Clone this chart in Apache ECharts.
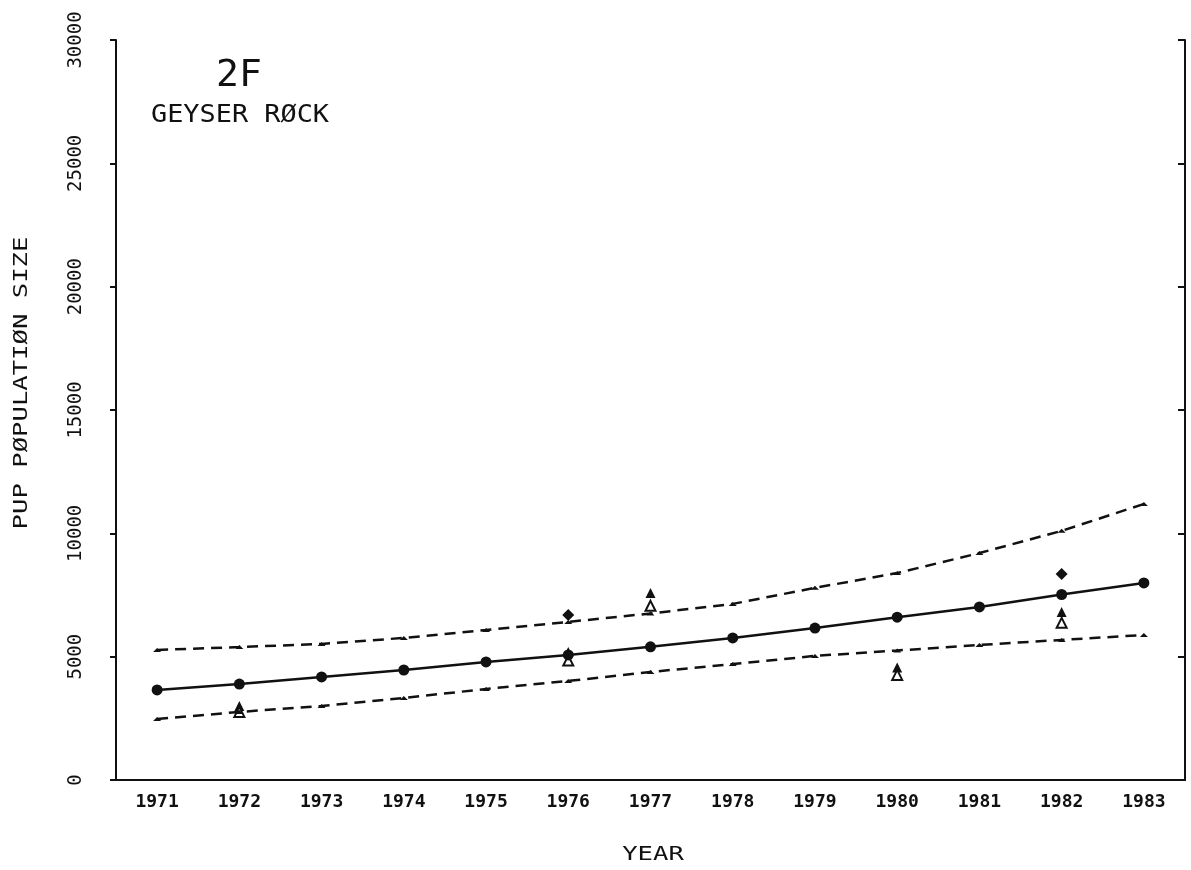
<!DOCTYPE html>
<html>
<head>
<meta charset="utf-8">
<script src="https://cdn.jsdelivr.net/npm/echarts@6/dist/echarts.min.js"></script>
<style>html,body{margin:0;padding:0;background:#fff}#c{width:1191px;height:870px}</style>
</head>
<body>
<div id="c"></div>
<script>
const years = ['1971','1972','1973','1974','1975','1976','1977','1978','1979','1980','1981','1982','1983'];
const yTicks = [0, 5000, 10000, 15000, 20000, 25000, 30000];
const fitted = [3650, 3890, 4180, 4460, 4785, 5070, 5400, 5760, 6160, 6600, 7015, 7520, 7990];
const upperCI = [5270, 5390, 5515, 5760, 6080, 6410, 6750, 7140, 7790, 8390, 9200, 10100, 11190];
const lowerCI = [2470, 2760, 3000, 3325, 3690, 4015, 4380, 4700, 5030, 5250, 5475, 5680, 5880];
const obsDiamond = [null, null, null, null, null, 6690, null, null, null, null, null, 8350, null];
const obsFilledTri = [null, 3000, null, null, null, 5190, 7580, null, null, 4560, null, 6810, null];
const obsOpenTri = [null, 2760, null, null, null, 4840, 7060, null, null, 4260, null, 6370, null];

const ink = '#111';
const font = 'DejaVu Sans Mono';
const chart = echarts.init(document.getElementById('c'));
chart.setOption({
  backgroundColor: '#fff',
  animation: false,
  grid: {left: 116, right: 6, top: 40, bottom: 90, containLabel: false},
  graphic: [
    {type: 'text', x: 216, y: 57, style: {text: '2F', font: '38px "DejaVu Sans Mono"', fill: ink}},
    {type: 'text', x: 151, y: 104, scaleX: 1.12, style: {text: 'GEYSER RØCK', font: '24px "DejaVu Sans Mono"', fill: ink}},
    {type: 'text', x: 22, y: 383, rotation: Math.PI / 2, scaleX: 1.28,
      style: {text: 'PUP PØPULATIØN SIZE', font: '20px "DejaVu Sans Mono"', fill: ink, align: 'center', verticalAlign: 'middle'}},
    {type: 'text', x: 653, y: 855, scaleX: 1.28,
      style: {text: 'YEAR', font: '20px "DejaVu Sans Mono"', fill: ink, align: 'center', verticalAlign: 'middle'}}
  ],
  xAxis: [
    {
      type: 'category', data: years, boundaryGap: true, position: 'bottom',
      axisLine: {lineStyle: {color: ink, width: 2}},
      axisTick: {alignWithLabel: true, length: 7, lineStyle: {color: ink, width: 2}},
      axisLabel: {fontFamily: font, fontWeight: 'bold', fontSize: 18, color: ink, margin: 13},
      splitLine: {show: false}
    },
    {
      type: 'category', data: years, boundaryGap: true, position: 'top',
      axisLine: {lineStyle: {color: ink, width: 2}},
      axisTick: {show: false}, axisLabel: {show: false}, splitLine: {show: false}
    }
  ],
  yAxis: [
    {
      type: 'value', min: 0, max: 30000, interval: 5000, position: 'left',
      axisLine: {show: true, lineStyle: {color: ink, width: 2}},
      axisTick: {show: true, length: 6, lineStyle: {color: ink, width: 2}},
      axisLabel: {rotate: 90, fontFamily: font, fontSize: 19, color: ink, margin: 30,
        formatter: v => yTicks.includes(v) ? String(v) : ''},
      splitLine: {show: false}
    },
    {
      type: 'value', min: 0, max: 30000, interval: 5000, position: 'right',
      axisLine: {show: true, lineStyle: {color: ink, width: 2}},
      axisTick: {show: true, inside: true, length: 7, lineStyle: {color: ink, width: 2}},
      axisLabel: {show: false}, splitLine: {show: false}
    }
  ],
  series: [
    {type: 'line', data: fitted, symbol: 'circle', symbolSize: 11, itemStyle: {color: ink, opacity: 1},
      lineStyle: {color: ink, width: 2.5}, z: 5},
    {type: 'line', data: upperCI, symbol: 'triangle', symbolSize: [8, 4], itemStyle: {color: ink, opacity: 1},
      lineStyle: {color: ink, width: 2.5, type: [11, 7]}},
    {type: 'line', data: lowerCI, symbol: 'triangle', symbolSize: [8, 4], itemStyle: {color: ink, opacity: 1},
      lineStyle: {color: ink, width: 2.5, type: [11, 7]}},
    {type: 'scatter', data: obsDiamond, symbol: 'diamond', symbolSize: 12, itemStyle: {color: ink, opacity: 1}},
    {type: 'scatter', data: obsFilledTri, symbol: 'triangle', symbolSize: 10, itemStyle: {color: ink, opacity: 1}},
    {type: 'scatter', data: obsOpenTri, symbol: 'triangle', symbolSize: 10,
      itemStyle: {color: '#fff', borderColor: ink, borderWidth: 2, opacity: 1}}
  ]
});
</script>
</body>
</html>
